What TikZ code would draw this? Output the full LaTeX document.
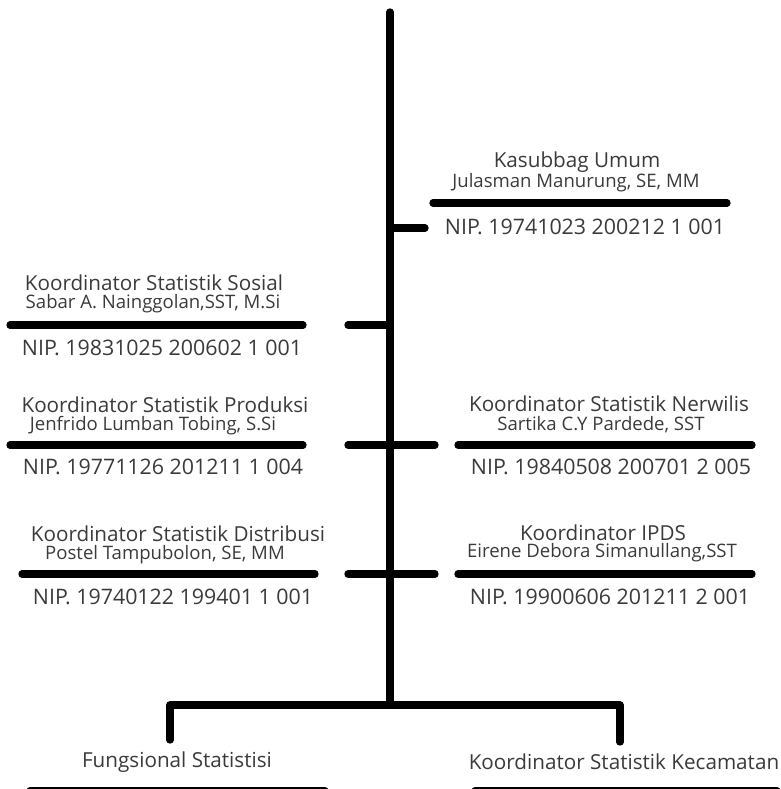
\documentclass[tikz,border=0pt]{standalone}
\usepackage{fontspec}
\setmainfont{Open Sans}
\usetikzlibrary{positioning}
\definecolor{orgtext}{HTML}{3A3A3A}

\begin{document}
\begin{tikzpicture}[x=0.025cm, y=-0.025cm,
  bar/.style={line width=5.2pt, line cap=round, line join=round},
  post/.style={font=\fontsize{14.7}{17}\selectfont, text=orgtext, inner sep=0pt},
  holder/.style={font=\fontsize{13.2}{15}\selectfont, text=orgtext, inner sep=0pt},
  nip/.style={font=\fontsize{15.2}{18}\selectfont, text=orgtext, inner sep=0pt}
]
  \useasboundingbox (0,0) rectangle (781,789);

  % main line
  \coordinate (top) at (390,12);
  \coordinate (hub) at (390,705);
  \draw[bar] (top) -- (hub);

  % Kasubbag Umum
  \node[post] (kasubbag) at (577,162) {Kasubbag Umum};
  \node[holder] (kasubbagname) at (576,183) {Julasman Manurung, SE, MM};
  \node[nip] (kasubbagnip) at (585,227) {NIP. 19741023 200212 1 001};
  \draw[bar] (433,203) -- (727,203);
  \coordinate (kasubbagin) at (390,228);
  \coordinate (kasubbagout) at (425,228);
  \draw[bar] (kasubbagin) -- (kasubbagout);

  % Sosial
  \node[post] (sosial) at (154,283) {Koordinator Statistik Sosial};
  \node[holder] (sosialname) at (153,304) {Sabar A. Nainggolan,SST, M.Si};
  \node[nip] (sosialnip) at (162,348) {NIP. 19831025 200602 1 001};
  \draw[bar] (10,325) -- (303,325);
  \coordinate (sosialout) at (348,325);
  \coordinate (sosialin) at (390,325);
  \draw[bar] (sosialout) -- (sosialin);

  % Produksi
  \node[post] (produksi) at (165,405) {Koordinator Statistik Produksi};
  \node[holder] (produksiname) at (153,426) {Jenfrido Lumban Tobing, S.Si};
  \node[nip] (produksinip) at (163,467) {NIP. 19771126 201211 1 004};
  \draw[bar] (10,445) -- (303,445);

  % Nerwilis
  \node[post] (nerwilis) at (609,404) {Koordinator Statistik Nerwilis};
  \node[holder] (nerwilisname) at (601,425) {Sartika C.Y Pardede, SST};
  \node[nip] (nerwilisnip) at (611,467) {NIP. 19840508 200701 2 005};
  \draw[bar] (458,445) -- (752,445);

  \coordinate (produksiout) at (348,445);
  \coordinate (nerwilisout) at (435,445);
  \draw[bar] (produksiout) -- (nerwilisout);

  % Distribusi
  \node[post] (distribusi) at (178,534) {Koordinator Statistik Distribusi};
  \node[holder] (distribusiname) at (165,555) {Postel Tampubolon, SE, MM};
  \node[nip] (distribusinip) at (173,597) {NIP. 19740122 199401 1 001};
  \draw[bar] (22,574) -- (315,574);

  % IPDS
  \node[post] (ipds) at (603,533) {Koordinator IPDS};
  \node[holder] (ipdsname) at (602,553) {Eirene Debora Simanullang,SST};
  \node[nip] (ipdsnip) at (610,597) {NIP. 19900606 201211 2 001};
  \draw[bar] (458,574) -- (752,574);

  \coordinate (distribusiout) at (348,574);
  \coordinate (ipdsout) at (435,574);
  \draw[bar] (distribusiout) -- (ipdsout);

  % bottom branch
  \coordinate (fungsionalin) at (170,740);
  \coordinate (kecamatanin) at (620,742);
  \draw[bar] (fungsionalin) |- (hub) -| (kecamatanin);

  \node[post] (fungsional) at (177,762) {Fungsional Statistisi};
  \node[post] (kecamatan) at (624,762) {Koordinator Statistik Kecamatan};
  \draw[bar] (30,791) -- (325,791);
  \draw[bar] (475,791) -- (777,791);
\end{tikzpicture}
\end{document}
